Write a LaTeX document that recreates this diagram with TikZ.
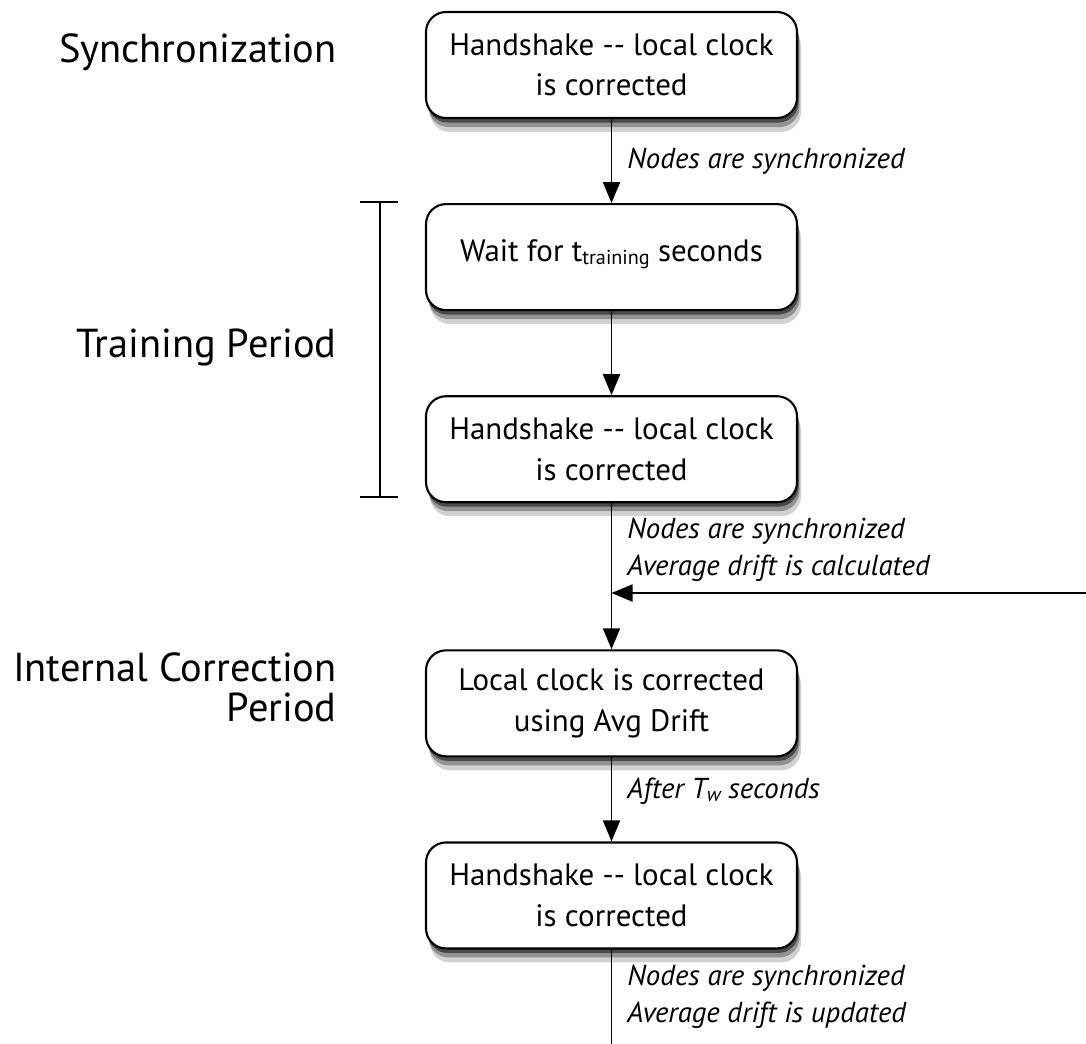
\documentclass[tikz,border=0pt]{standalone}
\usepackage{fontspec}
\setmainfont{PT Sans}
\usetikzlibrary{arrows.meta, positioning, shadows}

\newcommand{\lowsub}[1]{{\fontsize{11.5}{11.5}\selectfont\raisebox{-0.3ex}{#1}}}
\newcommand{\dd}{-{}-}

\begin{document}
\begin{tikzpicture}[
    stepbox/.style={draw, line width=1.2pt, rounded corners=0.4cm, fill=white,
                    minimum width=7.42cm, minimum height=2.12cm, align=center,
                    font=\fontsize{17.6}{23}\selectfont,
                    drop shadow={shadow xshift=0.08cm, shadow yshift=-0.28cm, fill=black, opacity=0.18},
                    drop shadow={shadow xshift=0.05cm, shadow yshift=-0.18cm, fill=black, opacity=0.3},
                    drop shadow={shadow xshift=0.03cm, shadow yshift=-0.09cm, fill=black, opacity=0.5}},
    flow/.style={line width=1.1pt, -{Triangle[length=0.42cm, width=0.34cm]}},
    note/.style={right, align=left, inner sep=0.3cm,
                 font=\fontsize{16.4}{21}\selectfont\itshape},
    phase/.style={anchor=east, align=right, inner sep=0pt, font=\fontsize{23}{23}\selectfont},
    node distance=1.68cm
  ]
    \useasboundingbox (0,0) rectangle (21.72,-20.86);

    % boxes down the middle
    \node[stepbox] (sync) at (12.23,-1.30) {Handshake \dd{} local clock\\is corrected};
    \node[stepbox, below=of sync] (wait) {\raisebox{0.25cm}{Wait for t\lowsub{training} seconds}};
    \node[stepbox, below=of wait] (hs2) {Handshake \dd{} local clock\\is corrected};
    \node[stepbox, below=2.92cm of hs2] (corr) {Local clock is corrected\\using Avg Drift};
    \node[stepbox, below=of corr] (hs3) {Handshake \dd{} local clock\\is corrected};

    % phase names on the left
    \node[phase] (syncl) at (6.74,-1.05) {Synchronization};
    \node[phase] (trainl) at (6.74,-6.95) {Training Period};
    \node[phase] (corrl) at (6.74,-13.75) {Internal Correction\\Period};

    % bracket for the training period
    \coordinate (brtop) at (7.6,-4.04);
    \coordinate (brbot) at (7.6,-9.94);
    \draw[line width=1.2pt] (brtop) -- (brbot);
    \draw[line width=1.2pt] ([xshift=-0.4cm]brtop) -- ([xshift=0.36cm]brtop);
    \draw[line width=1.2pt] ([xshift=-0.4cm]brbot) -- ([xshift=0.36cm]brbot);

    % arrows
    \draw[flow] (sync.south) -- node[note] {Nodes are synchronized} (wait.north);
    \draw[flow] (wait.south) -- (hs2.north);
    \draw[flow] (hs2.south) -- node[note, pos=0.32]
      {Nodes are synchronized\\Average drift is calculated} (corr.north);
    \draw[flow] (corr.south) -- node[note, pos=0.4]
      {After \textit{T}\lowsub{\itshape w} seconds} (hs3.north);

    \coordinate (feed) at (21.72,-11.86);
    \draw[flow] (feed) -- (feed -| hs2.south);

    \path (hs3.south) ++(0,-2.0) coordinate (tail);
    \draw[line width=1.1pt] (hs3.south) -- node[note, pos=0.47]
      {Nodes are synchronized\\Average drift is updated} (tail);
  \end{tikzpicture}
\end{document}
